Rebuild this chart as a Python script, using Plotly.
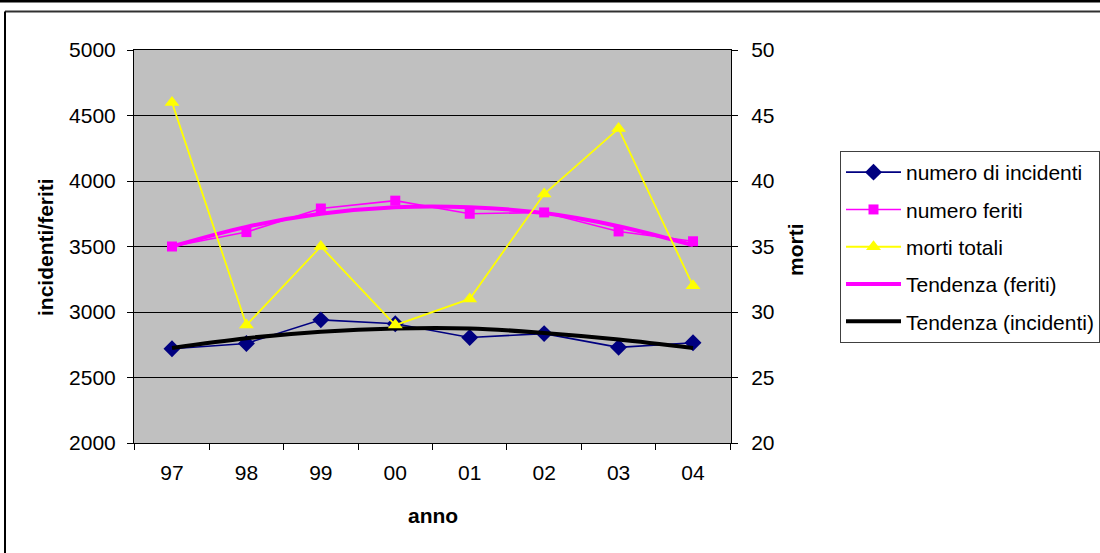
import plotly.graph_objects as go

# Dati per anno
anni = ["97", "98", "99", "00", "01", "02", "03", "04"]
incidenti = [2720, 2760, 2940, 2910, 2805, 2835, 2730, 2765]
feriti = [3500, 3610, 3790, 3850, 3750, 3760, 3615, 3540]
morti = [46, 29, 35, 29, 31, 39, 44, 32]
tendenza_feriti = [3500, 3650, 3750, 3800, 3800, 3755, 3655, 3510]
tendenza_incidenti = [2725, 2800, 2850, 2875, 2875, 2840, 2790, 2725]

W, H = 1100, 553
PL, PR, PT, PB = 134, 731, 50, 443  # plot area edges in pixels
FONT = "Liberation Sans, Arial, sans-serif"


def px(x):
    return (x - PL) / (PR - PL)


def py(y):
    return (PB - y) / (PB - PT)


fig = go.Figure()

fig.add_trace(go.Scatter(
    x=anni, y=incidenti, name="numero di incidenti", legendgroup="a",
    mode="lines+markers",
    line=dict(color="#000080", width=1.6),
    marker=dict(symbol="diamond", size=13, color="#000080"),
))
fig.add_trace(go.Scatter(
    x=anni, y=feriti, name="numero feriti", legendgroup="b",
    mode="lines+markers",
    line=dict(color="#FF00FF", width=1.6),
    marker=dict(symbol="square", size=10, color="#FF00FF"),
))
fig.add_trace(go.Scatter(
    x=anni, y=morti, name="morti totali", legendgroup="c", yaxis="y2",
    mode="lines+markers",
    line=dict(color="#FFFF00", width=1.8),
    marker=dict(symbol="triangle-up", size=13, color="#FFFF00"),
))
fig.add_trace(go.Scatter(
    x=anni, y=tendenza_feriti, name="Tendenza (feriti)", legendgroup="d",
    mode="lines", line=dict(color="#FF00FF", width=4, shape="spline"),
))
fig.add_trace(go.Scatter(
    x=anni, y=tendenza_incidenti, name="Tendenza (incidenti)", legendgroup="e",
    mode="lines", line=dict(color="#000000", width=4, shape="spline"),
))

fig.update_layout(
    width=W, height=H,
    margin=dict(l=PL, r=W - PR, t=PT, b=H - PB, autoexpand=False),
    paper_bgcolor="white",
    plot_bgcolor="#C0C0C0",
    font=dict(family=FONT, size=21, color="black"),
    showlegend=True,
    legend=dict(
        x=px(840), y=py(151), xanchor="left", yanchor="top",
        bordercolor="#404040", borderwidth=1, bgcolor="white",
        font=dict(size=21), itemwidth=55, tracegroupgap=7,
        traceorder="grouped",
    ),
    xaxis=dict(
        type="category", tickson="boundaries",
        showgrid=False, showline=True, mirror=True,
        linecolor="black", linewidth=1,
        ticks="outside", ticklen=6, tickcolor="black",
        ticklabelstandoff=11,
    ),
    yaxis=dict(
        range=[2000, 5000], dtick=500,
        showgrid=True, gridcolor="black", gridwidth=1,
        showline=True, linecolor="black", linewidth=1,
        ticks="outside", ticklen=6, tickcolor="black",
        zeroline=False, ticklabelstandoff=7,
    ),
    yaxis2=dict(
        range=[20, 50], dtick=5, overlaying="y", side="right",
        showgrid=False, showline=True, linecolor="black", linewidth=1,
        ticks="outside", ticklen=6, tickcolor="black",
        zeroline=False, ticklabelstandoff=9,
    ),
    annotations=[
        dict(text="<b>incidenti/feriti</b>", xref="paper", yref="paper",
             x=px(45), y=py(247), xanchor="center", yanchor="middle",
             textangle=-90, showarrow=False, font=dict(size=21)),
        dict(text="<b>morti</b>", xref="paper", yref="paper",
             x=px(795), y=py(250), xanchor="center", yanchor="middle",
             textangle=-90, showarrow=False, font=dict(size=21)),
        dict(text="<b>anno</b>", xref="paper", yref="paper",
             x=px(433), y=py(515), xanchor="center", yanchor="middle",
             showarrow=False, font=dict(size=21)),
    ],
    shapes=[
        # black band at the very top of the page
        dict(type="rect", xref="paper", yref="paper",
             x0=px(-5), x1=px(W + 5), y0=py(2.5), y1=py(-5),
             fillcolor="black", line=dict(width=0)),
        # chart frame: top and left edges
        dict(type="line", xref="paper", yref="paper",
             x0=px(5), x1=px(W + 5), y0=py(11.5), y1=py(11.5),
             line=dict(color="#303030", width=2)),
        dict(type="line", xref="paper", yref="paper",
             x0=px(5), x1=px(5), y0=py(11.5), y1=py(H + 5),
             line=dict(color="black", width=2)),
    ],
)

fig.write_html("out.html")
